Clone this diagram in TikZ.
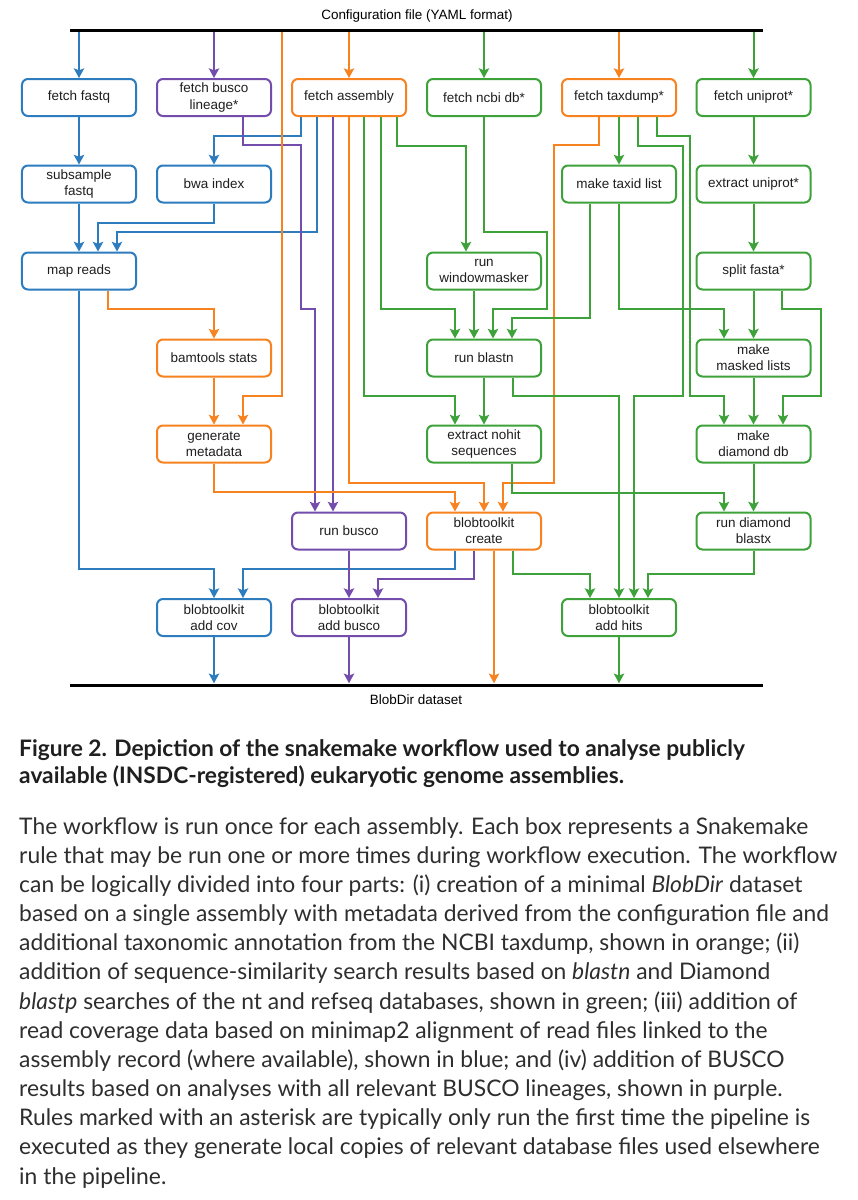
\documentclass[tikz,border=0pt]{standalone}
\usepackage{fontspec}
\setmainfont{Liberation Sans}
\newfontfamily\capfont{Lato}
\usetikzlibrary{arrows.meta}

\definecolor{wfblue}{RGB}{44,124,190}
\definecolor{wfpurple}{RGB}{115,76,172}
\definecolor{wforange}{RGB}{246,130,32}
\definecolor{wfgreen}{RGB}{62,162,58}

\begin{document}
\begin{tikzpicture}[
  x=0.3mm, y=-0.3mm,
  font=\fontsize{11.5}{13.7}\selectfont,
  rule/.style={draw, rounded corners=1.8mm, line width=0.6mm, align=center, minimum width=34.2mm, minimum height=11.1mm, inner sep=0pt, fill=white, text=black!88},
  bar/.style={fill=black, minimum width=207.9mm, minimum height=0.9mm, inner sep=0pt},
  link/.style={line width=0.6mm, -{Stealth[length=2.9mm, width=3.1mm, inset=0.6mm]}},
  blu/.style={link, draw=wfblue},
  pur/.style={link, draw=wfpurple},
  org/.style={link, draw=wforange},
  grn/.style={link, draw=wfgreen}
]

\path[fill=white] (0,0) rectangle (858,1200);

% config and output bars
\node[bar] (cfg) at (416.5,30) {};
\node (cfglabel) at (417,16) {Configuration file (YAML format)};
\node[bar] (dir) at (416.5,685) {};
\node (dirlabel) at (416,700) {BlobDir dataset};

% row 1
\node[rule, draw=wfblue] (fastq) at (79,97.5) {fetch fastq};
\node[rule, draw=wfpurple] (busco) at (214,97.5) {fetch busco\\lineage*};
\node[rule, draw=wforange] (asm) at (349,97.5) {fetch assembly};
\node[rule, draw=wfgreen] (ncbi) at (484,97.5) {fetch ncbi db*};
\node[rule, draw=wforange] (taxdump) at (619,97.5) {fetch taxdump*};
\node[rule, draw=wfgreen] (uniprot) at (753.5,97.5) {fetch uniprot*};

% row 2
\node[rule, draw=wfblue] (subsample) at (79,184) {subsample\\fastq};
\node[rule, draw=wfblue] (bwa) at (214,184) {bwa index};
\node[rule, draw=wfgreen] (taxid) at (619,184) {make taxid list};
\node[rule, draw=wfgreen] (extract) at (753.5,184) {extract uniprot*};

% row 3
\node[rule, draw=wfblue] (mapreads) at (79,271) {map reads};
\node[rule, draw=wfgreen] (wmask) at (484,271) {run\\windowmasker};
\node[rule, draw=wfgreen] (split) at (753.5,271) {split fasta*};

% row 4
\node[rule, draw=wforange] (bamstats) at (214,358) {bamtools stats};
\node[rule, draw=wfgreen] (blastn) at (484,358) {run blastn};
\node[rule, draw=wfgreen] (masked) at (753.5,358) {make\\masked lists};

% row 5
\node[rule, draw=wforange] (meta) at (214,444) {generate\\metadata};
\node[rule, draw=wfgreen] (nohit) at (484,444) {extract nohit\\sequences};
\node[rule, draw=wfgreen] (dmdb) at (753.5,444) {make\\diamond db};

% row 6
\node[rule, draw=wfpurple] (runbusco) at (349,531) {run busco};
\node[rule, draw=wforange] (create) at (484,531) {blobtoolkit\\create};
\node[rule, draw=wfgreen] (blastx) at (753.5,531) {run diamond\\blastx};

% row 7
\node[rule, draw=wfblue] (addcov) at (214,617.5) {blobtoolkit\\add cov};
\node[rule, draw=wfpurple] (addbusco) at (349,617.5) {blobtoolkit\\add busco};
\node[rule, draw=wfgreen] (addhits) at (619,617.5) {blobtoolkit\\add hits};

% blue: read coverage
\draw[blu] (cfg.south -| fastq) -- (fastq.north);
\draw[blu] (fastq) -- (subsample);
\draw[blu] (subsample) -- (mapreads);
\draw[blu] (bwa.south) -- (214,223) -| (mapreads.north -| 98,0);
\draw[blu] (asm.south -| 317,0) -- (317,232) -| (mapreads.north -| 117,0);
\draw[blu] (asm.south -| 301,0) -- (301,136) -| (bwa.north);
\draw[blu] (mapreads.south) -- (79,569) -| (addcov.north);
\draw[blu] (create.south -| 455,0) -- (455,569) -| (addcov.north -| 243,0);
\draw[blu] (addcov.south) -- (dir.north -| addcov);

% purple: busco
\draw[pur] (cfg.south -| busco) -- (busco.north);
\draw[pur] (busco.south -| 243,0) -- (243,145) -| (301,309) -| (runbusco.north -| 315,0);
\draw[pur] (asm.south -| 333,0) -- (runbusco.north -| 333,0);
\draw[pur] (runbusco) -- (addbusco);
\draw[pur] (create.south -| 474,0) -- (474,579) -| (addbusco.north -| 378,0);
\draw[pur] (addbusco.south) -- (dir.north -| addbusco);

% orange: minimal blobdir
\draw[org] (cfg.south -| asm) -- (asm.north);
\draw[org] (cfg.south -| 282,0) -- (282,396) -| (meta.north -| 243,0);
\draw[org] (cfg.south -| taxdump) -- (taxdump.north);
\draw[org] (mapreads.south -| 108,0) -- (108,309) -| (bamstats.north);
\draw[org] (bamstats) -- (meta);
\draw[org] (meta.south) -- (214,492) -| (create.north -| 455,0);
\draw[org] (asm.south) -- (349,483) -| (create.north);
\draw[org] (taxdump.south -| 599,0) -- (599,145) -| (554,483) -| (create.north -| 503,0);
\draw[org] (create.south -| 494,0) -- (dir.north -| 494,0);

% green: similarity search
\draw[grn] (cfg.south -| ncbi) -- (ncbi.north);
\draw[grn] (cfg.south -| uniprot) -- (uniprot.north);
\draw[grn] (asm.south -| 364,0) -- (364,396) -| (nohit.north -| 455,0);
\draw[grn] (asm.south -| 381,0) -- (381,309) -| (blastn.north -| 455,0);
\draw[grn] (asm.south -| 397,0) -- (397,146) -| (wmask.north -| 466,0);
\draw[grn] (ncbi.south) -- (484,232) -| (547,309) -| (blastn.north -| 493,0);
\draw[grn] (wmask.south -| 474,0) -- (blastn.north -| 474,0);
\draw[grn] (taxid.south -| 590,0) -- (590,318) -| (blastn.north -| 512,0);
\draw[grn] (blastn) -- (nohit);
\draw[grn] (blastn.south -| 513,0) -- (513,396) -| (addhits.north);
\draw[grn] (nohit.south -| 512,0) -- (512,493) -| (blastx.north -| 724,0);
\draw[grn] (taxdump) -- (taxid);
\draw[grn] (taxdump.south -| 638,0) -- (638,146) -| (683,396) -| (addhits.north -| 634,0);
\draw[grn] (taxdump.south -| 657,0) -- (657,136) -| (690,396) -| (dmdb.north -| 724,0);
\draw[grn] (uniprot) -- (extract);
\draw[grn] (extract) -- (split);
\draw[grn] (split) -- (masked);
\draw[grn] (split.south -| 782,0) -- (782,309) -| (821,396) -| (dmdb.north -| 783,0);
\draw[grn] (taxid.south) -- (619,309) -| (masked.north -| 724,0);
\draw[grn] (masked) -- (dmdb);
\draw[grn] (dmdb) -- (blastx);
\draw[grn] (create.south -| 513,0) -- (513,574) -| (addhits.north -| 590,0);
\draw[grn] (blastx.south) -- (753.5,574) -| (addhits.north -| 648,0);
\draw[grn] (addhits.south) -- (dir.north -| addhits);

% caption
\node[anchor=north west, align=left, inner sep=0pt, text=black!88,
  font=\capfont\bfseries\fontsize{19.4}{23}\selectfont] (title) at (19,739)
  {Figure 2. Depiction of the snakemake workflow used to analyse publicly\\
   available (INSDC-registered) eukaryotic genome assemblies.};
\node[anchor=north west, align=left, inner sep=0pt, text=black!82,
  font=\capfont\fontsize{19.5}{24.9}\selectfont] (legend) at (19,817)
  {The workflow is run once for each assembly. Each box represents a Snakemake\\
   rule that may be run one or more times during workflow execution. The workflow\\
   can be logically divided into four parts: (i) creation of a minimal \textit{BlobDir} dataset\\
   based on a single assembly with metadata derived from the configuration file and\\
   additional taxonomic annotation from the NCBI taxdump, shown in orange; (ii)\\
   addition of sequence-similarity search results based on \textit{blastn} and Diamond\\
   \textit{blastp} searches of the nt and refseq databases, shown in green; (iii) addition of\\
   read coverage data based on minimap2 alignment of read files linked to the\\
   assembly record (where available), shown in blue; and (iv) addition of BUSCO\\
   results based on analyses with all relevant BUSCO lineages, shown in purple.\\
   Rules marked with an asterisk are typically only run the first time the pipeline is\\
   executed as they generate local copies of relevant database files used elsewhere\\
   in the pipeline.};

\end{tikzpicture}
\end{document}
